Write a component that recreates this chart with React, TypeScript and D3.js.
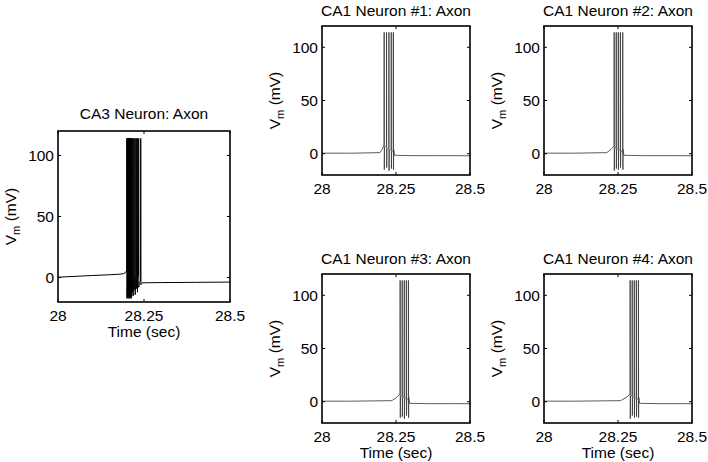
import React from "react";
import * as d3 from "d3";

// ---------- data ----------
const xDomain = [28, 28.5];
const yDomain = [-20, 120];
const xTicks = [28, 28.25, 28.5];
const xTickLabels = ["28", "28.25", "28.5"];
const yTicks = [0, 50, 100];
const yTickLabels = ["0", "50", "100"];
const xAxisLabel = "Time (sec)";

const ca3Title = "CA3 Neuron: Axon";
const ca3PreTimes = [28.0, 28.05, 28.1, 28.15, 28.18, 28.19, 28.196, 28.199];
const ca3PreValues = [0.3, 1.0, 1.7, 2.3, 2.8, 3.2, 4.0, 5.5];
const ca3SpikeTimes = [28.2, 28.2015, 28.203, 28.2045, 28.206, 28.2075, 28.209, 28.2105, 28.212, 28.2135, 28.2155, 28.218, 28.221, 28.224, 28.2275, 28.2305, 28.2345, 28.2405];
const ca3Troughs = [-17, -16, -17, -15, -17, -16, -17, -14, -17, -16, -12, -15, -10, -14, -9, -12, -8, -6];
const ca3Inter = [4, 3, 5, 2, 4, 3, 1, 4, 2, 3, 0, 2, -2, 1, -3, 0, -4, -5];
const ca3Peak = 114;
const ca3PostTimes = [28.244, 28.3, 28.4, 28.5];
const ca3PostValues = [-4.3, -4.1, -3.9, -3.7];

const ca1Titles = ["CA1 Neuron #1: Axon", "CA1 Neuron #2: Axon", "CA1 Neuron #3: Axon", "CA1 Neuron #4: Axon"];
const ca1PreTimes = [
  [28.0, 28.1, 28.196, 28.203, 28.209],
  [28.0, 28.1, 28.212, 28.226, 28.236],
  [28.0, 28.1, 28.236, 28.252, 28.263],
  [28.0, 28.1, 28.259, 28.278, 28.29],
];
const ca1PreValues = [
  [0.5, 0.5, 1.0, 4.0, 8.0],
  [0.5, 0.5, 1.0, 4.0, 7.0],
  [0.5, 0.5, 1.0, 4.0, 7.0],
  [0.5, 0.5, 1.0, 4.0, 7.0],
];
const ca1SpikeTimes = [
  [28.21, 28.218, 28.226, 28.234, 28.241],
  [28.237, 28.244, 28.251, 28.258, 28.266],
  [28.264, 28.271, 28.278, 28.285, 28.292],
  [28.291, 28.298, 28.305, 28.312, 28.319],
];
const ca1Troughs = [
  [-15, -13, -16, -14, -15],
  [-16, -14, -15, -13, -15],
  [-15, -14, -16, -13, -15],
  [-16, -13, -15, -14, -15],
];
const ca1Inter = [
  [6, 4, 3, 2, 4],
  [5, 4, 3, 2, 4],
  [5, 4, 3, 2, 4],
  [5, 4, 3, 2, 4],
];
const ca1Peak = 114;
const ca1PostOffsets = [0.004, 0.06, 0.15, 0.26];
const ca1PostValues = [-1.5, -1.8, -1.8, -1.9];

// ---------- helpers ----------
type Pt = [number, number];
function buildTrace(preT: number[], preV: number[], spikes: number[], peak: number, troughs: number[], inter: number[], postT: number[], postV: number[]): Pt[] {
  const pts: Pt[] = preT.map((t, i) => [t, preV[i]] as Pt);
  spikes.forEach((s, i) => {
    pts.push([s - 0.0003, pts[pts.length - 1][1] + 1]);
    pts.push([s, peak]);
    pts.push([s + 0.0005, troughs[i]]);
    pts.push([s + 0.0012, inter[i]]);
  });
  postT.forEach((t, i) => pts.push([t, postV[i]]));
  return pts;
}

const FONT = "'Liberation Sans', Arial, Helvetica, sans-serif";
const FS = 15.5;

type PanelProps = { title: string; left: number; top: number; width: number; height: number; showX: boolean; trace: Pt[]; stroke: string; sw: number; titleGap: number };

function Panel({ title, left, top, width, height, showX, trace, stroke, sw, titleGap }: PanelProps) {
  const x = d3.scaleLinear().domain(xDomain).range([left, left + width]);
  const y = d3.scaleLinear().domain(yDomain).range([top + height, top]);
  const line = d3.line<Pt>().x((d) => x(d[0])).y((d) => y(d[1]));
  const tl = 3;
  const bottom = top + height;
  const right = left + width;
  return (
    <g fontFamily={FONT} fontSize={FS} fill="#000">
      <path d={line(trace) || ""} fill="none" stroke={stroke} strokeWidth={sw} strokeLinejoin="round" />
      {xTicks.map((t) => (
        <g key={"xt" + t}>
          <line x1={x(t)} x2={x(t)} y1={bottom} y2={bottom - tl} stroke="#000" strokeWidth={1} />
          <line x1={x(t)} x2={x(t)} y1={top} y2={top + tl} stroke="#000" strokeWidth={1} />
        </g>
      ))}
      {yTicks.map((t) => (
        <g key={"yt" + t}>
          <line x1={left} x2={left + tl} y1={y(t)} y2={y(t)} stroke="#000" strokeWidth={1} />
          <line x1={right} x2={right - tl} y1={y(t)} y2={y(t)} stroke="#000" strokeWidth={1} />
        </g>
      ))}
      <rect x={left} y={top} width={width} height={height} fill="none" stroke="#000" strokeWidth={1.6} />
      {xTicks.map((t, i) => (
        <text key={"xl" + t} x={x(t)} y={bottom + 19} textAnchor="middle">{xTickLabels[i]}</text>
      ))}
      {yTicks.map((t, i) => (
        <text key={"yl" + t} x={left - 4} y={y(t) + 5.5} textAnchor="end">{yTickLabels[i]}</text>
      ))}
      <text x={(left + right) / 2} y={top - titleGap} textAnchor="middle">{title}</text>
      {showX && (
        <text x={(left + right) / 2} y={bottom + 35} textAnchor="middle">{xAxisLabel}</text>
      )}
      <text transform={`translate(${left - 42},${(top + bottom) / 2}) rotate(-90)`} textAnchor="middle">
        V<tspan dy={4} fontSize={FS * 0.72}>m</tspan><tspan dy={-4}> (mV)</tspan>
      </text>
    </g>
  );
}

export default function App() {
  const ca3 = buildTrace(ca3PreTimes, ca3PreValues, ca3SpikeTimes, ca3Peak, ca3Troughs, ca3Inter, ca3PostTimes, ca3PostValues);
  const ca1 = ca1SpikeTimes.map((sp, k) => {
    const last = sp[sp.length - 1];
    const postT = ca1PostOffsets.map((o, i) => (i === ca1PostOffsets.length - 1 ? xDomain[1] : last + o));
    return buildTrace(ca1PreTimes[k], ca1PreValues[k], sp, ca1Peak, ca1Troughs[k], ca1Inter[k], postT, ca1PostValues);
  });
  const cols = [322, 544];
  const rows = [26, 274];
  const w = 148, h = 149;
  return (
    <svg width={708} height={462} style={{ position: "absolute", left: 0, top: 0, background: "#fff" }}>
      <rect width={708} height={462} fill="#fff" />
      <Panel title={ca3Title} left={58} top={131} width={172} height={171} showX={true} trace={ca3} stroke="#000" sw={1} titleGap={12} />
      {ca1.map((tr, k) => (
        <Panel key={k} title={ca1Titles[k]} left={cols[k % 2]} top={rows[Math.floor(k / 2)]} width={w} height={h} showX={k >= 2} trace={tr} stroke="#333" sw={0.8} titleGap={10.5} />
      ))}
    </svg>
  );
}
